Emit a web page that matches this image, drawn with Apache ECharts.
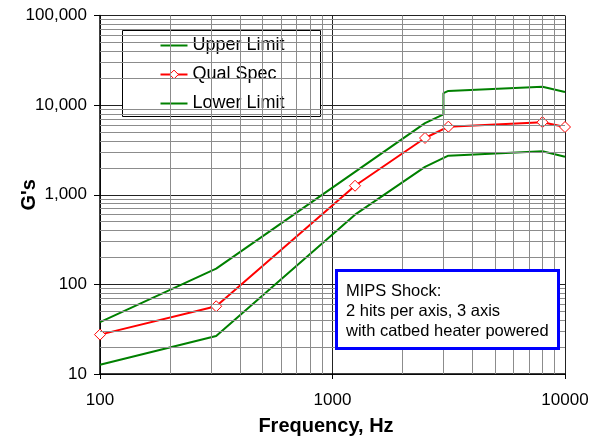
<!DOCTYPE html>
<html>
<head>
<meta charset="utf-8">
<script src="https://cdn.jsdelivr.net/npm/echarts@6/dist/echarts.min.js"></script>
<style>html,body{margin:0;padding:0;background:#fff}#c{width:600px;height:436px}</style>
</head>
<body>
<div id="c"></div>
<script>
// ---- data ----
const upperFreq = [100, 316, 2500, 3000, 3000, 3150, 8000, 10000];
const upperG    = [38, 150, 6300, 7900, 13600, 14400, 16000, 14000];
const qualFreq  = [100, 316, 1250, 2500, 3150, 8000, 10000];
const qualG     = [27.5, 57, 1260, 4300, 5750, 6450, 5700];
const lowerFreq = [100, 316, 1250, 2500, 3150, 8000, 10000];
const lowerG    = [12.7, 26.5, 600, 2050, 2730, 3050, 2650];
const seriesNames = ['Upper Limit', 'Qual Spec', 'Lower Limit'];
const xTicks = [100, 1000, 10000];
const yTicks = [10, 100, 1000, 10000, 100000];
const noteLines = ['MIPS Shock:', '2 hits per axis, 3 axis', 'with catbed heater powered'];

const FONT = '"Liberation Sans", Arial, sans-serif';
const pair = (xs, ys) => xs.map((x, i) => [x, ys[i]]);

// minor grid positions (2..9 of each decade)
const xMinor = [], yMinor = [];
for (let d = 0; d < xTicks.length - 1; d++) for (let k = 2; k <= 9; k++) xMinor.push(xTicks[d] * k);
for (let d = 0; d < yTicks.length - 1; d++) for (let k = 2; k <= 9; k++) yMinor.push(yTicks[d] * k);

function commas(v) {
  return String(Math.round(v)).replace(/\B(?=(\d{3})+(?!\d))/g, ',');
}

const chart = echarts.init(document.getElementById('c'), null, {renderer: 'canvas'});
chart.setOption({
  animation: false,
  backgroundColor: '#fff',
  textStyle: {fontFamily: FONT},
  grid: {left: 100, right: 35, top: 15.5, bottom: 62, containLabel: false, outerBoundsMode: 'none'},
  legend: {
    data: [
      {name: seriesNames[0], itemStyle: {opacity: 0}},
      {name: seriesNames[1], itemStyle: {color: '#ffffff', borderColor: '#ff0000', borderWidth: 1}},
      {name: seriesNames[2], itemStyle: {opacity: 0}}
    ],
    orient: 'vertical',
    left: 122.5, top: 30.5,
    padding: [5, 36, 3, 37],
    itemWidth: 27, itemHeight: 11, itemGap: 9,
    backgroundColor: '#fff',
    borderColor: '#000', borderWidth: 1,
    textStyle: {fontFamily: FONT, fontSize: 18, color: '#000', lineHeight: 20},
    selectedMode: false
  },
  xAxis: {
    type: 'log', logBase: 10, min: xTicks[0], max: xTicks[xTicks.length - 1],
    name: 'Frequency, Hz', nameLocation: 'middle', nameGap: 42, nameMoveOverlap: false,
    nameTextStyle: {fontFamily: FONT, fontSize: 20, fontWeight: 'bold', color: '#000', padding: [0, 13, 0, 0]},
    axisLine: {lineStyle: {color: '#000', width: 1.5}},
    axisTick: {show: true, length: 5, inside: false, lineStyle: {color: '#000'}},
    axisLabel: {fontFamily: FONT, fontSize: 17, color: '#000', margin: 18, formatter: v => String(Math.round(v))},
    splitLine: {show: true, lineStyle: {color: '#222', width: 1}}
  },
  yAxis: {
    type: 'log', logBase: 10, min: yTicks[0], max: yTicks[yTicks.length - 1],
    name: "G's", nameLocation: 'middle', nameGap: 61, nameRotate: 90, nameMoveOverlap: false,
    nameTextStyle: {fontFamily: FONT, fontSize: 20, fontWeight: 'bold', color: '#000'},
    axisLine: {show: true, lineStyle: {color: '#000', width: 1.5}},
    axisTick: {show: true, length: 6, inside: false, lineStyle: {color: '#000'}},
    axisLabel: {fontFamily: FONT, fontSize: 17, color: '#000', margin: 13, formatter: v => commas(v)},
    splitLine: {show: true, lineStyle: {color: '#222', width: 1}}
  },
  series: [
    {
      name: 'grid-minor', type: 'line', data: [], z: 1, silent: true,
      markLine: {
        silent: true, symbol: 'none', animation: false,
        label: {show: false},
        lineStyle: {color: '#8c8c8c', width: 1, type: 'solid'},
        emphasis: {disabled: true},
        data: xMinor.map(v => ({xAxis: v})).concat(yMinor.map(v => ({yAxis: v})))
      }
    },
    {
      name: seriesNames[0], type: 'line', data: pair(upperFreq, upperG), z: 3,
      symbol: 'none', showSymbol: false,
      lineStyle: {color: '#008000', width: 2},
      itemStyle: {color: '#008000'}
    },
    {
      name: seriesNames[1], type: 'line', data: pair(qualFreq, qualG), z: 4,
      symbol: 'diamond', symbolSize: 11, showSymbol: true,
      lineStyle: {color: '#ff0000', width: 2},
      itemStyle: {color: '#ffffff', borderColor: '#ff0000', borderWidth: 1}
    },
    {
      name: seriesNames[2], type: 'line', data: pair(lowerFreq, lowerG), z: 3,
      symbol: 'none', showSymbol: false,
      lineStyle: {color: '#008000', width: 2},
      itemStyle: {color: '#008000'}
    }
  ],
  graphic: [
    {type: 'rect', z: 100, zlevel: 0, shape: {x: 336.5, y: 270.5, width: 222, height: 78},
     style: {fill: '#ffffff', stroke: '#0000ff', lineWidth: 3}},
    {type: 'text', z: 101, zlevel: 0, x: 346, y: 281,
     style: {text: noteLines.join('\n'), fill: '#000', font: '16.5px ' + FONT, lineHeight: 20, verticalAlign: 'top'}}
  ]
});
</script>
</body>
</html>
